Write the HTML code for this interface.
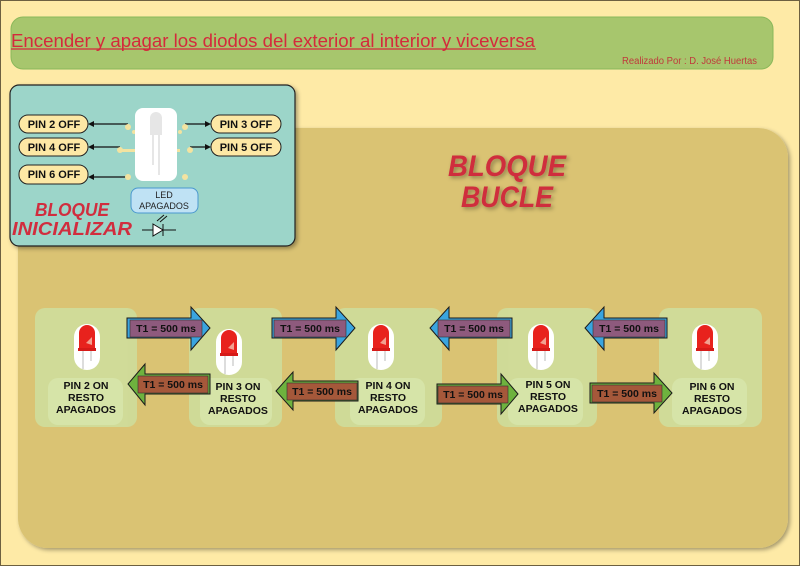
<!DOCTYPE html>
<html><head><meta charset="utf-8"><style>
html,body{margin:0;padding:0;width:800px;height:566px;overflow:hidden;background:#feeaa6}
svg{display:block}
text{font-family:"Liberation Sans",sans-serif}
</style></head><body>
<svg width="800" height="566" viewBox="0 0 800 566" xmlns="http://www.w3.org/2000/svg">
<defs>
<filter id="sh" x="-10%" y="-10%" width="130%" height="130%"><feDropShadow dx="2" dy="2" stdDeviation="2" flood-color="#000" flood-opacity="0.35"/></filter>
<g id="led">
<rect x="-13" y="-23" width="26" height="46" rx="13" fill="#fff"/>
<path d="M-8,2 L-8,-14 A8,8 0 0 1 8,-14 L8,2 Z" fill="#e8221d"/>
<rect x="-9" y="1" width="18" height="3" fill="#d61a18"/>
<path d="M-1,-4 L5,-10 L5,-2 Z" fill="#f2a090"/>
<line x1="-4" y1="4" x2="-4" y2="22" stroke="#bbb" stroke-width="1"/>
<line x1="4" y1="4" x2="4" y2="14" stroke="#bbb" stroke-width="1"/>
</g>
</defs>
<rect x="0.5" y="0.5" width="799" height="565" fill="#feeaa6" stroke="#6d6040" stroke-width="1"/>
<!-- title -->
<rect x="11" y="17" width="762" height="52" rx="12" fill="#a7c66d" stroke="#8ab85a"/>
<text x="11" y="47" font-size="18" fill="#d42a3c" textLength="524" lengthAdjust="spacingAndGlyphs">Encender  y apagar los diodos del exterior al interior y viceversa</text>
<line x1="11" y1="49" x2="536" y2="49" stroke="#d42a3c" stroke-width="1.3"/>
<text x="757" y="64" font-size="10" fill="#c0393b" text-anchor="end" textLength="135" lengthAdjust="spacingAndGlyphs">Realizado Por : D. José Huertas</text>
<!-- bucle -->
<rect x="18" y="128" width="770" height="420" rx="30" fill="#dac373" filter="url(#sh)"/>
<g font-size="30" font-weight="bold" font-style="italic" fill="#cf2d3d" text-anchor="middle" filter="url(#sh)">
<text x="507" y="176" textLength="118" lengthAdjust="spacingAndGlyphs">BLOQUE</text><text x="507" y="207" textLength="92" lengthAdjust="spacingAndGlyphs">BUCLE</text></g>
<!-- init -->
<rect x="10" y="85" width="285" height="161" rx="9" fill="#9cd5c9" stroke="#222" stroke-width="1.2" filter="url(#sh)"/>
<g stroke="#111" stroke-width="1.2" fill="none">
<line x1="128" y1="124" x2="92" y2="124"/><line x1="120" y1="147" x2="92" y2="147"/><line x1="128" y1="177" x2="92" y2="177"/>
<line x1="185" y1="124" x2="207" y2="124"/><line x1="190" y1="147" x2="207" y2="147"/>
</g>
<g fill="#111"><path d="M88,124 l6,-3 v6z"/><path d="M88,147 l6,-3 v6z"/><path d="M88,177 l6,-3 v6z"/><path d="M211,124 l-6,-3 v6z"/><path d="M211,147 l-6,-3 v6z"/></g>
<g fill="#f3e3a0"><circle cx="128" cy="127" r="3"/><circle cx="120" cy="150" r="3"/><circle cx="128" cy="177" r="3"/><circle cx="185" cy="127" r="3"/><circle cx="190" cy="150" r="3"/><circle cx="185" cy="177" r="3"/><circle cx="134" cy="132" r="2"/><circle cx="180" cy="132" r="2"/></g>
<rect x="120" y="149" width="60" height="3" fill="#f3e3a0"/>
<rect x="135" y="108" width="42" height="73" rx="8" fill="#fff"/>
<path d="M150,135 L150,118 A6,6 0 0 1 162,118 L162,135 Z" fill="#e6e6e6"/>
<line x1="153" y1="135" x2="153" y2="165" stroke="#ccc"/><line x1="159" y1="135" x2="159" y2="175" stroke="#ccc"/>
<g font-size="11" font-weight="bold" fill="#111" text-anchor="middle">
<rect x="19" y="115" width="69" height="18" rx="9" fill="#fde8a5" stroke="#222"/><text x="54" y="128">PIN 2 OFF</text>
<rect x="19" y="138" width="69" height="18" rx="9" fill="#fde8a5" stroke="#222"/><text x="54" y="151">PIN 4 OFF</text>
<rect x="19" y="165" width="69" height="19" rx="9" fill="#fde8a5" stroke="#222"/><text x="54" y="178">PIN 6 OFF</text>
<rect x="211" y="115" width="70" height="18" rx="9" fill="#fde8a5" stroke="#222"/><text x="246" y="128">PIN 3 OFF</text>
<rect x="211" y="138" width="70" height="18" rx="9" fill="#fde8a5" stroke="#222"/><text x="246" y="151">PIN 5 OFF</text>
</g>
<rect x="131" y="188" width="67" height="25" rx="7" fill="#bfe2f4" stroke="#4a98cf"/>
<g font-size="9" fill="#222" text-anchor="middle"><text x="164" y="198">LED</text><text x="164" y="209">APAGADOS</text></g>
<g font-size="18" font-weight="bold" font-style="italic" fill="#d12d3e" text-anchor="middle">
<text x="72" y="216" textLength="74" lengthAdjust="spacingAndGlyphs">BLOQUE</text><text x="72" y="235" textLength="120" lengthAdjust="spacingAndGlyphs">INICIALIZAR</text></g>
<g stroke="#111" fill="#fff" stroke-width="1"><line x1="142" y1="230" x2="176" y2="230"/><path d="M153,224 L163,230 L153,236Z"/><line x1="163" y1="224" x2="163" y2="236"/><line x1="157" y1="221" x2="164" y2="215"/><line x1="160" y1="222" x2="167" y2="216"/></g>
<!-- cards -->
<g fill="#cfdd9b" opacity="0.92">
<rect x="35" y="308" width="102" height="119" rx="10"/>
<rect x="189" y="308" width="93" height="119" rx="10"/>
<rect x="335" y="308" width="107" height="119" rx="10"/>
<rect x="497" y="308" width="100" height="119" rx="10"/>
<rect x="659" y="308" width="103" height="119" rx="10"/>
</g>
<g fill="#d6e4a8"><rect x="48" y="378" width="75" height="47" rx="10"/><rect x="200" y="378" width="72" height="47" rx="10"/><rect x="350" y="378" width="75" height="47" rx="10"/><rect x="508" y="378" width="75" height="47" rx="10"/><rect x="672" y="378" width="75" height="47" rx="10"/></g>
<use href="#led" x="87" y="347"/><use href="#led" x="229" y="352"/><use href="#led" x="381" y="347"/><use href="#led" x="541" y="347"/><use href="#led" x="705" y="347"/>
<g font-size="10.5" font-weight="bold" fill="#111" text-anchor="middle">
<text x="86" y="389">PIN 2 ON</text><text x="86" y="401">RESTO</text><text x="86" y="413">APAGADOS</text>
<text x="238" y="390">PIN 3 ON</text><text x="238" y="402">RESTO</text><text x="238" y="414">APAGADOS</text>
<text x="388" y="389">PIN 4 ON</text><text x="388" y="401">RESTO</text><text x="388" y="413">APAGADOS</text>
<text x="548" y="388">PIN 5 ON</text><text x="548" y="400">RESTO</text><text x="548" y="412">APAGADOS</text>
<text x="712" y="390">PIN 6 ON</text><text x="712" y="402">RESTO</text><text x="712" y="414">APAGADOS</text>
</g>
<!-- arrows -->
<g stroke="#1a1a1a" stroke-width="1">
<path d="M127,318 H191 V307 L210,328 L191,350 V338 H127Z" fill="#3aa4df"/>
<path d="M272,318 H336 V307 L355,328 L336,350 V338 H272Z" fill="#3aa4df"/>
<path d="M512,318 H449 V307 L430,328 L449,350 V338 H512Z" fill="#3aa4df"/>
<path d="M667,318 H604 V307 L585,328 L604,350 V338 H667Z" fill="#3aa4df"/>
<path d="M210,374 H145 V364 L128,384 L145,405 V394 H210Z" fill="#6eb23e"/>
<path d="M358,381 H293 V372 L276,391 L293,410 V401 H358Z" fill="#6eb23e"/>
<path d="M437,384 H501 V374 L518,394 L501,414 V404 H437Z" fill="#6eb23e"/>
<path d="M590,383 H654 V373 L672,393 L654,413 V403 H590Z" fill="#6eb23e"/>
</g>
<g fill="#8e5a7d" stroke="#333" stroke-width="0.6">
<rect x="130" y="320" width="72" height="17"/><rect x="274" y="320" width="72" height="17"/>
<rect x="438" y="320" width="72" height="17"/><rect x="593" y="320" width="72" height="17"/>
</g>
<g fill="#a5583a" stroke="#333" stroke-width="0.6">
<rect x="138" y="376" width="70" height="17"/><rect x="287" y="383" width="70" height="17"/>
<rect x="438" y="386" width="70" height="17"/><rect x="592" y="385" width="70" height="17"/>
</g>
<g font-size="10.5" font-weight="bold" fill="#111" text-anchor="middle">
<text x="166" y="332">T1 = 500 ms</text><text x="310" y="332">T1 = 500 ms</text><text x="474" y="332">T1 = 500 ms</text><text x="629" y="332">T1 = 500 ms</text>
<text x="173" y="388">T1 = 500 ms</text><text x="322" y="395">T1 = 500 ms</text><text x="473" y="398">T1 = 500 ms</text><text x="627" y="397">T1 = 500 ms</text>
</g>
</svg>
</body></html>
